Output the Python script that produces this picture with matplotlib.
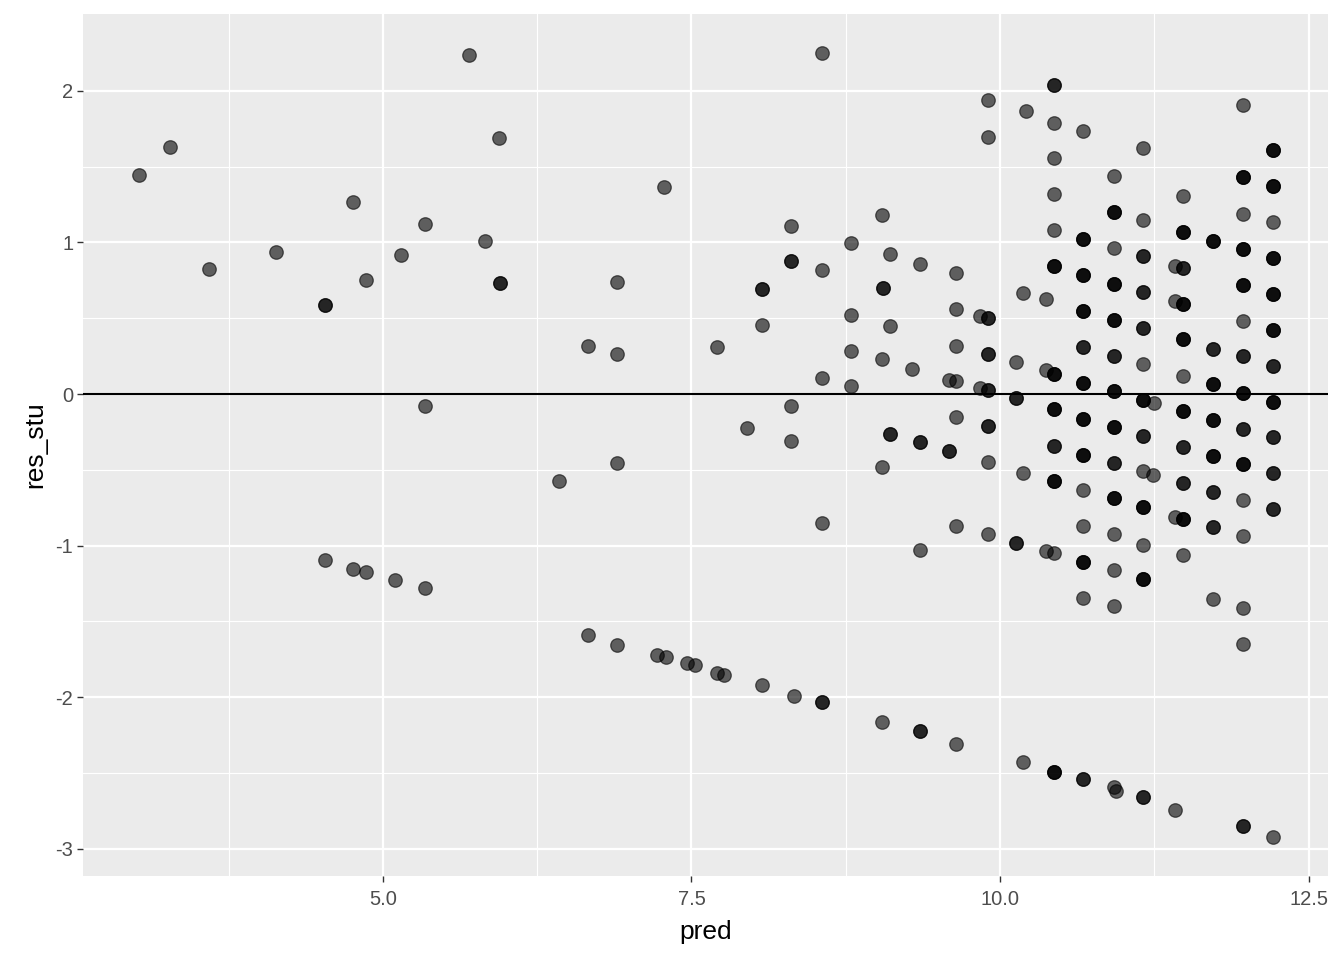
import matplotlib
matplotlib.use("Agg")
import matplotlib.pyplot as plt
import numpy as np

plt.rcParams['font.family'] = ['Liberation Sans', 'DejaVu Sans']

# (pred, res_stu, overlap count)
pred = [3.02, 3.27, 3.59, 4.13, 4.53, 4.53, 4.76, 4.76, 4.86, 4.86, 5.10, 5.15, 5.34, 5.34, 5.34,
        5.70, 5.83, 5.94, 5.95, 6.43, 6.66, 6.66, 6.90, 6.90, 6.90, 6.90, 7.22, 7.28, 7.29, 7.46,
        7.53, 7.71, 7.71, 7.76, 7.95, 8.07, 8.07, 8.07, 8.31, 8.31, 8.31, 8.31, 8.33, 8.56, 8.56,
        8.56, 8.56, 8.56, 8.79, 8.79, 8.79, 8.79, 9.04, 9.04, 9.04, 9.04, 9.05, 9.11, 9.11, 9.11,
        9.29, 9.35, 9.35, 9.35, 9.35, 9.59, 9.59, 9.64, 9.64, 9.64, 9.64, 9.64, 9.64, 9.64,
        9.84, 9.84, 9.90, 9.90, 9.90, 9.90, 9.90, 9.90, 9.90, 9.90,
        10.13, 10.13, 10.13, 10.19, 10.19, 10.21, 10.19, 10.37, 10.37, 10.37,
        10.44, 10.44, 10.44, 10.44, 10.44, 10.44, 10.44, 10.44, 10.44, 10.44, 10.44, 10.44,
        10.67, 10.67, 10.67, 10.67, 10.67, 10.67, 10.67, 10.67, 10.67, 10.67, 10.67, 10.67, 10.67,
        10.92, 10.92, 10.92, 10.92, 10.92, 10.92, 10.92, 10.92, 10.92, 10.92, 10.92, 10.92, 10.92, 10.92, 10.94,
        11.16, 11.16, 11.16, 11.16, 11.16, 11.16, 11.16, 11.16, 11.16, 11.24, 11.16, 11.16, 11.16, 11.16,
        11.42, 11.42, 11.42, 11.42,
        11.48, 11.48, 11.48, 11.48, 11.48, 11.48, 11.48, 11.48, 11.48, 11.48, 11.48, 11.25,
        11.73, 11.73, 11.73, 11.73, 11.73, 11.73, 11.73, 11.73,
        11.97, 11.97, 11.97, 11.97, 11.97, 11.97, 11.97, 11.97, 11.97, 11.97, 11.97, 11.97, 11.97, 11.97, 11.97,
        12.21, 12.21, 12.21, 12.21, 12.21, 12.21, 12.21, 12.21, 12.21, 12.21, 12.21, 12.21]
res_stu = [1.445, 1.63, 0.825, 0.94, 0.59, -1.095, 1.27, -1.155, 0.75, -1.175, -1.227, 0.917, 1.12, -0.08, -1.28,
           2.236, 1.01, 1.69, 0.73, -0.574, 0.317, -1.59, 0.739, 0.264, -0.455, -1.656, -1.72, 1.365, -1.735, -1.774,
           -1.79, 0.31, -1.84, -1.853, -0.224, 0.693, 0.455, -1.92, 1.108, -0.079, -0.31, 0.877, -1.99, 0.818, 0.105,
           -0.851, -2.03, 2.25, 0.996, 0.52, 0.284, 0.053, 1.18, 0.23, -0.48, -2.16, 0.70, -0.264, 0.924, 0.449,
           0.165, 0.858, -0.317, -1.03, -2.22, -0.376, 0.092, 0.086, 0.80, 0.56, 0.32, -0.152, -0.87, -2.31,
           0.515, 0.04, 1.94, 1.695, 0.50, 0.264, 0.026, -0.21, -0.449, -0.923,
           -0.026, 0.21, -0.98, -0.52, -2.43, 1.87, 0.666, 0.627, 0.158, -1.036,
           2.04, 1.79, 1.557, 1.32, 1.08, 0.844, 0.13, -0.10, -0.34, -0.574, -1.05, -2.49,
           1.735, 1.02, 0.785, 0.547, 0.31, 0.073, -0.165, -0.40, -0.633, -0.87, -1.108, -1.345, -2.54,
           1.438, 1.20, 0.963, 0.726, 0.488, 0.25, 0.02, -0.218, -0.455, -0.686, -0.923, -1.16, -1.40, -2.59, -2.62,
           1.62, 1.148, 0.91, 0.673, 0.435, 0.198, -0.04, -0.277, -0.508, -0.535, -0.745, -0.996, -1.22, -2.66,
           0.844, 0.613, -0.81, -2.744,
           1.306, 1.07, 0.83, 0.594, 0.363, 0.12, -0.11, -0.35, -0.587, -0.825, -1.062, -0.06,
           1.01, 0.30, 0.066, -0.17, -0.41, -0.646, -0.877, -1.35,
           1.906, 1.43, 1.19, 0.956, 0.72, 0.48, 0.25, 0.006, -0.23, -0.462, -0.70, -0.937, -1.41, -1.65, -2.85,
           1.61, 1.37, 1.135, 0.897, 0.66, 0.42, 0.185, -0.053, -0.284, -0.52, -0.76, -2.92]
overlap = [1, 1, 1, 1, 2, 1, 1, 1, 1, 1, 1, 1, 1, 1, 1,
           1, 1, 1, 2, 1, 1, 1, 1, 1, 1, 1, 1, 1, 1, 1,
           1, 1, 1, 1, 1, 2, 1, 1, 1, 1, 1, 2, 1, 1, 1,
           1, 2, 1, 1, 1, 1, 1, 1, 1, 1, 1, 2, 2, 1, 1,
           1, 1, 2, 1, 2, 2, 1, 1, 1, 1, 1, 1, 1, 1,
           1, 1, 1, 1, 2, 2, 2, 2, 1, 1,
           2, 1, 2, 1, 1, 1, 1, 1, 1, 1,
           2, 1, 1, 1, 1, 3, 3, 3, 2, 3, 1, 3,
           1, 3, 3, 3, 2, 3, 3, 3, 1, 1, 3, 1, 2,
           1, 3, 1, 3, 3, 2, 3, 3, 2, 3, 1, 1, 1, 1, 1,
           1, 1, 2, 2, 2, 1, 3, 2, 1, 1, 3, 1, 3, 2,
           1, 1, 1, 1,
           1, 3, 2, 3, 3, 1, 3, 2, 2, 3, 1, 1,
           3, 2, 3, 3, 3, 2, 2, 1,
           1, 3, 1, 3, 3, 1, 2, 3, 2, 3, 1, 1, 1, 1, 2,
           3, 3, 1, 3, 3, 3, 2, 3, 2, 2, 2, 1]

xs = np.repeat(pred, overlap)
ys = np.repeat(res_stu, overlap)

fig = plt.figure(figsize=(13.44, 9.6), dpi=100)
ax = fig.add_axes([83/1344, 1-876/960, (1328-83)/1344, (876-14)/960])
ax.set_facecolor('#EBEBEB')
for s in ax.spines.values():
    s.set_visible(False)

ax.set_xlim(2.569, 12.658)
ax.set_ylim(-3.179, 2.507)
ax.set_xticks([5.0, 7.5, 10.0, 12.5])
ax.set_xticklabels(['5.0', '7.5', '10.0', '12.5'])
ax.set_xticks([3.75, 6.25, 8.75, 11.25], minor=True)
ax.set_yticks([-3, -2, -1, 0, 1, 2])
ax.set_yticklabels(['-3', '-2', '-1', '0', '1', '2'])
ax.set_yticks([-2.5, -1.5, -0.5, 0.5, 1.5], minor=True)
ax.grid(which='major', color='white', linewidth=1.6)
ax.grid(which='minor', color='white', linewidth=0.8)
ax.set_axisbelow(True)
ax.tick_params(which='major', length=4, width=1.0, color='#333333', labelsize=14.5, labelcolor='#4D4D4D', pad=3)
ax.tick_params(axis='x', which='major', pad=6)
ax.tick_params(which='minor', length=0)

ax.axhline(0, color='black', linewidth=1.5, zorder=2)
ax.scatter(xs, ys, s=95, color='black', alpha=0.6, edgecolors='black', linewidths=0.9, zorder=3)

ax.set_xlabel('pred', fontsize=19, color='black', labelpad=8)
ax.set_ylabel('res_stu', fontsize=19, color='black', labelpad=6)

fig.savefig('out.png', dpi=100)
